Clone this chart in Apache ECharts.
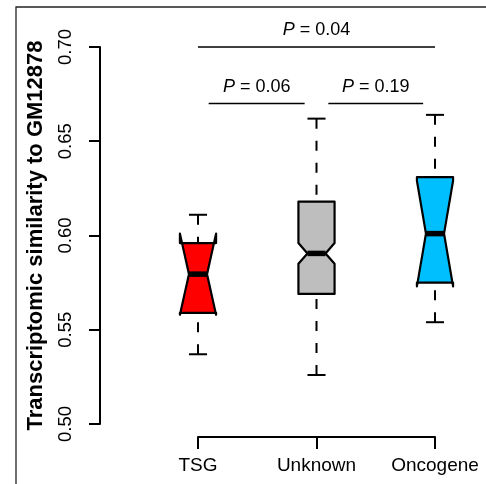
<!DOCTYPE html>
<html>
<head>
<meta charset="utf-8">
<script src="https://cdn.jsdelivr.net/npm/echarts@6/dist/echarts.min.js"></script>
<style>
html,body{margin:0;padding:0;background:#fff;}
#chart{width:486px;height:484px;}
</style>
</head>
<body>
<div id="chart"></div>
<script>
// ---- data ----
const categories  = ['TSG', 'Unknown', 'Oncogene'];
const whiskerLow  = [0.537, 0.526, 0.554];
const q1          = [0.559, 0.569, 0.575];
const notchLow    = [0.558, 0.585, 0.573];
const median      = [0.5795, 0.5905, 0.601];
const notchHigh   = [0.601, 0.596, 0.629];
const q3          = [0.596, 0.618, 0.631];
const whiskerHigh = [0.611, 0.662, 0.664];
const boxColors   = ['#FF0000', '#BEBEBE', '#00BFFF'];

const yTicks = [0.50, 0.55, 0.60, 0.65, 0.70];

const bracketFrom = [1.09, 2.1, 1];
const bracketTo   = [1.9, 2.9, 3];
const bracketY    = [0.67, 0.67, 0.70];
const pValues     = ['0.06', '0.19', '0.04'];

const FONT = '"Liberation Sans", Arial, Helvetica, sans-serif';
const BOX_W = 0.305; // box width in x-axis units

const boxData = categories.map((c, i) => [i + 1, whiskerLow[i], q1[i], notchLow[i], median[i], notchHigh[i], q3[i], whiskerHigh[i]]);
const bracketData = pValues.map((p, i) => [bracketFrom[i], bracketTo[i], bracketY[i], p]);

const chart = echarts.init(document.getElementById('chart'), null, {renderer: 'canvas'});

chart.setOption({
  animation: false,
  backgroundColor: '#fff',
  graphic: [{
    type: 'rect',
    shape: {x: 16, y: 7, width: 520, height: 520},
    style: {fill: 'none', stroke: '#222', lineWidth: 1.3},
    silent: true
  }],
  grid: {left: 198, right: 51, top: 47, bottom: 60, containLabel: false, outerBoundsMode: 'none'},
  xAxis: {
    type: 'value', min: 1, max: 3, interval: 1, offset: 13,
    axisLine: {show: true, lineStyle: {color: '#000', width: 2}},
    axisTick: {show: true, length: 12, lineStyle: {color: '#000', width: 2}},
    axisLabel: {
      show: true, margin: 19, fontSize: 19, color: '#000', fontFamily: FONT,
      formatter: v => categories[Math.round(v) - 1] || ''
    },
    splitLine: {show: false}
  },
  yAxis: {
    type: 'value', min: yTicks[0], max: yTicks[yTicks.length - 1], interval: 0.05, offset: 98,
    name: 'Transcriptomic similarity to GM12878',
    nameLocation: 'middle', nameGap: 53,
    nameTextStyle: {fontSize: 22, fontWeight: 'bold', color: '#000', fontFamily: FONT},
    axisLine: {show: true, lineStyle: {color: '#000', width: 2}},
    axisTick: {show: true, length: 11, lineStyle: {color: '#000', width: 2}},
    axisLabel: {
      show: true, rotate: 90, margin: 25, fontSize: 18.5, color: '#000', fontFamily: FONT,
      formatter: v => v.toFixed(2)
    },
    splitLine: {show: false}
  },
  series: [
    {
      type: 'custom',
      clip: false,
      data: boxData,
      encode: {x: 0, y: [1, 2, 3, 4, 5, 6, 7]},
      renderItem: function (params, api) {
        const x = api.value(0);
        const Y = v => api.coord([x, v])[1];
        const cx = api.coord([x, 0.6])[0];
        const hw = api.size([BOX_W, 0])[0] / 2;
        const yWL = Y(api.value(1)), yQ1 = Y(api.value(2)), yNL = Y(api.value(3));
        const yM = Y(api.value(4)), yNH = Y(api.value(5)), yQ3 = Y(api.value(6)), yWH = Y(api.value(7));
        const col = boxColors[params.dataIndex];
        const dash = {stroke: '#000', lineWidth: 2, lineDash: [10, 12]};
        const solid = {stroke: '#000', lineWidth: 2};
        return {
          type: 'group',
          children: [
            {type: 'line', shape: {x1: cx, y1: yWH, x2: cx, y2: yQ3}, style: dash},
            {type: 'line', shape: {x1: cx, y1: yWL, x2: cx, y2: yQ1}, style: dash},
            {type: 'line', shape: {x1: cx - hw / 2, y1: yWH, x2: cx + hw / 2, y2: yWH}, style: solid},
            {type: 'line', shape: {x1: cx - hw / 2, y1: yWL, x2: cx + hw / 2, y2: yWL}, style: solid},
            {
              type: 'polygon',
              shape: {points: [
                [cx - hw, yQ1], [cx - hw, yNL], [cx - hw / 2, yM], [cx - hw, yNH], [cx - hw, yQ3],
                [cx + hw, yQ3], [cx + hw, yNH], [cx + hw / 2, yM], [cx + hw, yNL], [cx + hw, yQ1]
              ]},
              style: {fill: col, stroke: '#000', lineWidth: 2.2, lineJoin: 'round'}
            },
            {type: 'line', shape: {x1: cx - hw / 2, y1: yM, x2: cx + hw / 2, y2: yM}, style: {stroke: '#000', lineWidth: 5.5}}
          ]
        };
      }
    },
    {
      type: 'custom',
      clip: false,
      data: bracketData,
      encode: {x: [0, 1], y: 2},
      renderItem: function (params, api) {
        const p1 = api.coord([api.value(0), api.value(2)]);
        const p2 = api.coord([api.value(1), api.value(2)]);
        const p = bracketData[params.dataIndex][3];
        return {
          type: 'group',
          children: [
            {type: 'line', shape: {x1: p1[0], y1: p1[1], x2: p2[0], y2: p1[1]}, style: {stroke: '#000', lineWidth: 1.5}},
            {
              type: 'text',
              x: (p1[0] + p2[0]) / 2, y: p1[1] - 17,
              style: {
                text: '{i|P} = ' + p,
                align: 'center', verticalAlign: 'middle',
                fontSize: 18, fontFamily: FONT, fill: '#000',
                rich: {i: {fontStyle: 'italic', fontSize: 18, fontFamily: FONT, fill: '#000'}}
              }
            }
          ]
        };
      }
    }
  ]
});
</script>
</body>
</html>
